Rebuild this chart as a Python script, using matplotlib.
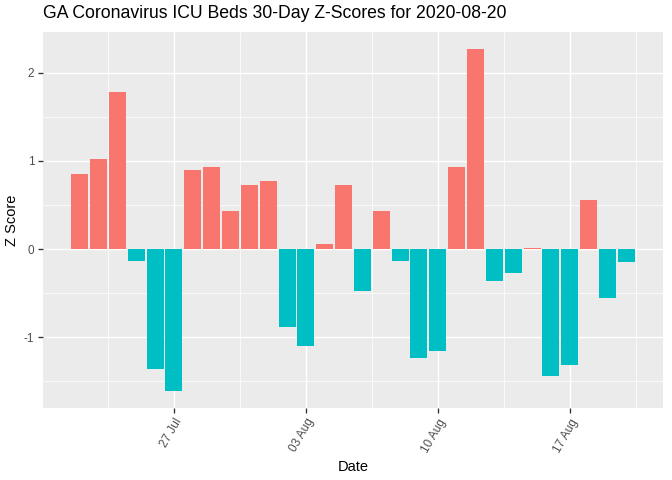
import numpy as np
import pandas as pd
import matplotlib
matplotlib.use("Agg")
import matplotlib.pyplot as plt
import matplotlib.dates as mdates
import matplotlib.transforms as mtransforms

plt.rcParams['font.family'] = ['Liberation Sans', 'DejaVu Sans']

dates = pd.date_range("2020-07-22", "2020-08-20", freq="D")
z_scores = [0.85, 1.02, 1.78, -0.14, -1.36, -1.61, 0.90, 0.93, 0.43, 0.73,
            0.77, -0.89, -1.10, 0.06, 0.73, -0.48, 0.43, -0.14, -1.24, -1.16,
            0.93, 2.27, -0.36, -0.27, 0.015, -1.44, -1.32, 0.56, -0.56, -0.15]
tick_dates = pd.to_datetime(["2020-07-27", "2020-08-03", "2020-08-10", "2020-08-17"])
tick_labels = ["27 Jul", "03 Aug", "10 Aug", "17 Aug"]
title = "GA Coronavirus ICU Beds 30-Day Z-Scores for 2020-08-20"

pos_col = "#F8766D"
neg_col = "#00BFC4"

fig = plt.figure(figsize=(7, 5), dpi=96)
ax = fig.add_axes([43 / 672, 1 - 408 / 480, 620 / 672, 376 / 480])
ax.set_facecolor("#EBEBEB")

x = mdates.date2num(dates)
vals = np.array(z_scores)
colors = [pos_col if v > 0 else neg_col for v in vals]
ax.bar(x, vals, width=0.9, color=colors, zorder=3)

# ggplot-style expansion
xlo, xhi = x.min() - 0.45, x.max() + 0.45
xpad = (xhi - xlo) * 0.05
ax.set_xlim(xlo - xpad, xhi + xpad)
ylo, yhi = vals.min(), vals.max()
ypad = (yhi - ylo) * 0.05
ax.set_ylim(ylo - ypad, yhi + ypad)

tx = mdates.date2num(tick_dates)
ax.set_xticks(tx)
ax.set_xticklabels(tick_labels, rotation=60, ha="right", rotation_mode="anchor",
                   fontsize=8.8, color="#4D4D4D")
shift = mtransforms.ScaledTranslation(4 / 96, -2 / 96, fig.dpi_scale_trans)
for lab in ax.get_xticklabels():
    lab.set_transform(lab.get_transform() + shift)
minor_x = list((tx[:-1] + tx[1:]) / 2)
minor_x = [tx[0] - 3.5] + minor_x + [tx[-1] + 3.5]
ax.set_xticks(minor_x, minor=True)

ax.set_yticks([-1, 0, 1, 2])
ax.set_yticklabels(["-1", "0", "1", "2"], fontsize=8.8, color="#4D4D4D")
ax.set_yticks([-1.5, -0.5, 0.5, 1.5], minor=True)

ax.grid(which="major", color="white", linewidth=1.1, zorder=0)
ax.grid(which="minor", color="white", linewidth=0.55, zorder=0)
ax.set_axisbelow(True)
ax.tick_params(which="major", length=3.5, width=1, color="#333333", pad=3)
ax.tick_params(which="minor", length=0)
for s in ax.spines.values():
    s.set_visible(False)

ax.set_xlabel("Date", fontsize=11, color="black", labelpad=4)
ax.set_ylabel("Z Score", fontsize=11, color="black", labelpad=4)
fig.text(43 / 672, 1 - 14 / 480, title, fontsize=13.2, ha="left", va="center")

fig.savefig("out.png", dpi=96)
